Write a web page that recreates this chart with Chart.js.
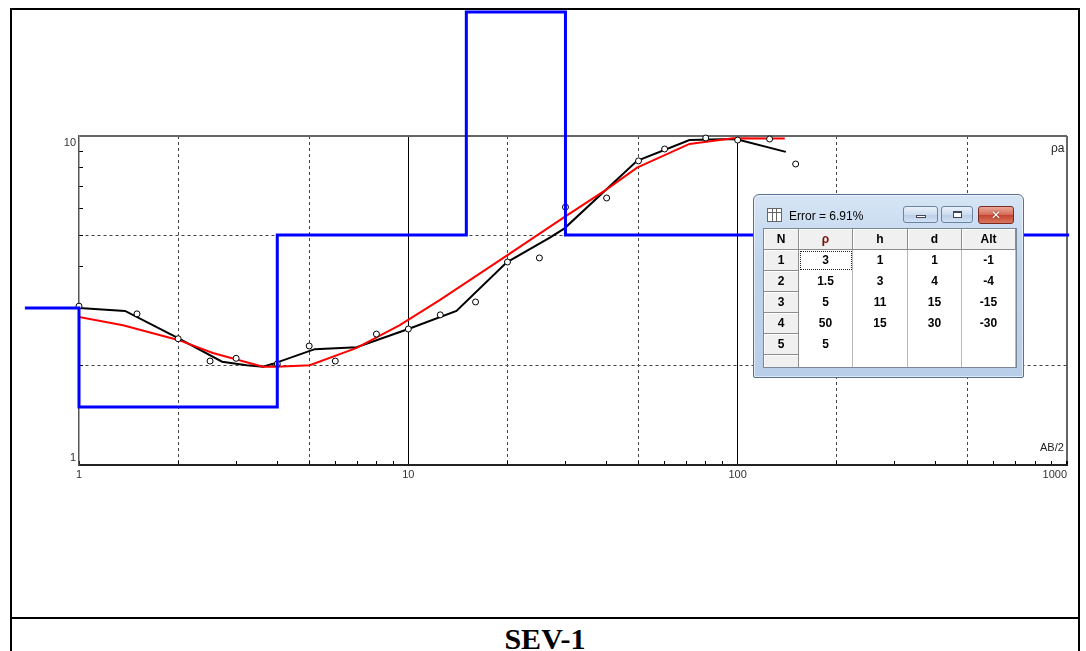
<!DOCTYPE html>
<html>
<head>
<meta charset="utf-8">
<script src="https://cdn.jsdelivr.net/npm/chart.js"></script>
<style>
  body { margin: 0; width: 1086px; height: 651px; overflow: hidden; background: #fff; position: relative; font-family: "Liberation Sans", Arial, sans-serif; }
  #frame { position: absolute; left: 10px; top: 8px; width: 1070px; height: 720px; border: 2px solid #000; box-sizing: border-box; }
  #sep { position: absolute; left: 10px; top: 617px; width: 1070px; height: 2px; background: #000; }
  #caption { position: absolute; left: 10px; width: 1070px; top: 622px; line-height: 30px; text-align: center; font: bold 30px "Liberation Serif", "Times New Roman", serif; }
  #chartBox { position: absolute; left: 12px; top: 10px; width: 1066px; height: 606px; }
  .axname { position: absolute; font-size: 12px; color: #222; }
  #win { position: absolute; left: 753px; top: 194px; width: 271px; height: 184px; box-sizing: border-box;
         border: 1px solid #56708f; border-radius: 6px 6px 2px 2px;
         background: linear-gradient(#d6e5f5, #bed3ec 40%, #b9cfe9); box-shadow: inset 0 0 0 1px rgba(255,255,255,0.55); }
  #win .icon { position: absolute; left: 13px; top: 13px; width: 15px; height: 14px; box-sizing: border-box; border: 1px solid #666;
         background: linear-gradient(#666,#666) 0 3px/100% 1px no-repeat, linear-gradient(#666,#666) 4px 0/1px 100% no-repeat,
                     linear-gradient(#666,#666) 8px 0/1px 100% no-repeat, #fff; }
  #win .ttl { position: absolute; left: 35px; top: 14px; font-size: 12px; color: #000; }
  #win .btn { position: absolute; top: 11px; height: 17px; box-sizing: border-box; border: 1px solid #6a84a5; border-radius: 3px;
         background: linear-gradient(#e9f1fa, #cddcef 50%, #b8cce6 51%, #d3e2f4); }
  #win .bmin { left: 149px; width: 35px; }
  #win .bmax { left: 187px; width: 32px; }
  #win .bmin i { position: absolute; left: 12px; top: 8px; width: 10px; height: 3px; box-sizing: border-box; border: 1px solid #445; background: #fff; }
  #win .bmax i { position: absolute; left: 11px; top: 4px; width: 9px; height: 7px; box-sizing: border-box; border: 1px solid #445; border-top-width: 2px; background: #fff; }
  #win .bclose { left: 224px; width: 36px; height: 18px; border-color: #7a2a1e;
         background: linear-gradient(#eaa898, #d46a56 50%, #c4432f 51%, #d9785f); color: #fff; text-align: center;
         font: bold 12px "DejaVu Sans", sans-serif; line-height: 16px; text-shadow: 0 0 2px #5a1a10; }
  #grid { position: absolute; left: 9px; top: 33px; width: 254px; height: 140px; box-sizing: border-box; border: 1px solid #7d8694;
         overflow: hidden; background: #fff; display: grid; grid-template-columns: 35px 54px 55px 54px 54px; grid-auto-rows: 21px;
         font: bold 12px "Liberation Sans", Arial, sans-serif; }
  #grid div { box-sizing: border-box; text-align: center; line-height: 20px; }
  #grid .hc { background: #f0f0f0; border-right: 1px solid #8c8c8c; border-bottom: 1px solid #8c8c8c; box-shadow: inset 1px 1px 0 #fff; }
  #grid .dc { background: #fff; border-right: 1px solid #b8b8b8; line-height: 21px; }
  #grid .rho { color: #7a1010; }
  #grid .focus { outline: 1px dotted #222; outline-offset: -2px; }
</style>
</head>
<body>
<div id="frame"></div>
<div id="sep"></div>
<div id="caption">SEV-1</div>
<div id="chartBox"><canvas id="sevChart" width="1066" height="606"></canvas></div>
<span class="axname" style="left:1051px; top:141px;">ρa</span>
<span class="axname" style="left:1040px; top:441px; font-size:11px;">AB/2</span>
<div id="win">
  <div class="icon"></div>
  <div class="ttl">Error = 6.91%</div>
  <div class="btn bmin"><i></i></div>
  <div class="btn bmax"><i></i></div>
  <div class="btn bclose">✕</div>
  <div id="grid"></div>
</div>
<script>
// axis ticks (AB/2 and apparent resistivity, both log)
const abTicks = [1, 2, 3, 4, 5, 6, 7, 8, 9, 10, 20, 30, 40, 50, 60, 70, 80, 90, 100, 200, 300, 400, 500, 600, 700, 800, 900, 1000];
const rhoTicks = [1, 2, 3, 4, 5, 6, 7, 8, 9, 10];
const abLabels = [1, 10, 100, 1000];
const abDashed = [2, 5, 20, 50, 200, 500];
const rhoDashed = [2, 5];

// field measurements (circles)
const obsAB  = [1, 1.5, 2, 2.5, 3, 4, 5, 6, 8, 10, 12.5, 16, 20, 25, 30, 40, 50, 60, 80, 100, 125, 150];
const obsRho = [3.04, 2.88, 2.42, 2.07, 2.11, 2.03, 2.30, 2.07, 2.50, 2.59, 2.86, 3.13, 4.14, 4.26, 6.08, 6.48, 8.40, 9.13, 9.86, 9.72, 9.79, 8.22];

// smoothed field curve (black)
const fieldAB  = [1, 1.38, 2.0, 2.72, 3.23, 3.62, 3.88, 5.2, 6.97, 10, 14, 19.9, 26.9, 29.8, 49.5, 71.4, 96.7, 100, 140];
const fieldRho = [3.0, 2.94, 2.43, 2.06, 2.01, 1.99, 2.03, 2.25, 2.28, 2.59, 2.94, 4.13, 4.91, 5.24, 8.41, 9.72, 9.79, 9.76, 8.95];

// calculated curve (red)
const calcAB  = [1, 1.36, 2.0, 2.55, 3.62, 3.99, 5.02, 6.97, 9.42, 12.45, 19.9, 29.6, 39.7, 49.5, 71.4, 96.7, 139];
const calcRho = [2.82, 2.66, 2.40, 2.19, 1.99, 1.99, 2.01, 2.27, 2.66, 3.17, 4.33, 5.65, 6.85, 8.01, 9.46, 9.85, 9.83];

// layered model (blue) and table
const layerRho = [3, 1.5, 5, 50, 5];
const layerH = [1, 3, 11, 15];
const layerD = [1, 4, 15, 30];
const layerAlt = [-1, -4, -15, -30];
const modelRange = [0.685, 1015];

function pts(xs, ys) {
  return xs.map((x, i) => ({x: x, y: ys[i]}));
}

const modelPoints = [{x: modelRange[0], y: layerRho[0]}];
layerD.forEach((d, i) => modelPoints.push({x: d, y: layerRho[i + 1]}));
modelPoints.push({x: modelRange[1], y: layerRho[layerRho.length - 1]});

// the program clamps the model to the window top
const clampModel = {
  id: 'clampModel',
  afterDatasetsUpdate(chart) {
    chart.getDatasetMeta(0).data.forEach(p => { if (p.y < 2) p.y = 2; });
  }
};

Chart.defaults.font.family = '"Liberation Sans", Arial, sans-serif';
Chart.defaults.font.size = 11;
Chart.defaults.color = '#333';

const ctx = document.getElementById('sevChart');

new Chart(ctx, {
  type: 'line',
  data: {
    datasets: [
      {
        data: modelPoints,
        borderColor: '#0000ff',
        borderWidth: 3,
        stepped: 'before',
        pointRadius: 0,
        clip: false
      },
      {
        data: pts(obsAB, obsRho),
        showLine: false,
        pointRadius: 3,
        pointBackgroundColor: '#fff',
        pointBorderColor: '#000',
        pointBorderWidth: 1,
        clip: false
      },
      {
        data: pts(calcAB, calcRho),
        borderColor: '#ff0000',
        borderWidth: 2,
        pointRadius: 0
      },
      {
        data: pts(fieldAB, fieldRho),
        borderColor: '#000',
        borderWidth: 2,
        pointRadius: 0
      }
    ]
  },
  options: {
    responsive: false,
    animation: false,
    layout: { padding: { top: 126, right: 11, bottom: 121, left: 27 } },
    plugins: { legend: { display: false }, tooltip: { enabled: false } },
    scales: {
      x: {
        type: 'logarithmic',
        min: 1,
        max: 1000,
        afterBuildTicks: axis => { axis.ticks = abTicks.map(v => ({value: v})); },
        afterFit: axis => { axis.height = 30; axis.paddingLeft = 0; axis.paddingRight = 0; },
        ticks: {
          autoSkip: false,
          maxRotation: 0,
          padding: 7,
          color: '#333',
          callback: v => {
            if (!abLabels.includes(v)) return '';
            return v === 1000 ? '1000        ' : String(v);
          }
        },
        grid: {
          color: c => {
            const v = c.tick ? c.tick.value : 0;
            if (v === 1000) return '#666';
            if (v === 10 || v === 100) return '#000';
            if (abDashed.includes(v)) return '#444';
            return 'transparent';
          },
          lineWidth: c => (c.tick && c.tick.value === 1000 ? 2 : 1),
          tickLength: -4,
          tickColor: '#000'
        },
        border: {
          color: '#222',
          width: 2,
          dash: c => (c.tick && abDashed.includes(c.tick.value) ? [3, 3] : [])
        }
      },
      y: {
        type: 'logarithmic',
        min: 1,
        max: 10,
        afterBuildTicks: axis => { axis.ticks = rhoTicks.map(v => ({value: v})); },
        afterFit: axis => { axis.width = 40; axis.paddingTop = 0; axis.paddingBottom = 0; },
        ticks: {
          autoSkip: false,
          padding: 7,
          color: '#333',
          callback: v => (v === 10 ? ['', '10'] : v === 1 ? ['1', ''] : '')
        },
        grid: {
          color: c => {
            const v = c.tick ? c.tick.value : 0;
            if (v === 10) return '#666';
            if (rhoDashed.includes(v)) return '#444';
            return 'transparent';
          },
          lineWidth: c => (c.tick && c.tick.value === 10 ? 2 : 1),
          tickLength: -4,
          tickColor: c => (c.tick && (c.tick.value === 1 || c.tick.value === 10) ? 'transparent' : '#000')
        },
        border: {
          color: '#555',
          width: 1.5,
          dash: c => (c.tick && rhoDashed.includes(c.tick.value) ? [3, 3] : [])
        }
      }
    }
  },
  plugins: [clampModel]
});

// model table in the little window
const grid = document.getElementById('grid');
let cells = '<div class="hc">N</div><div class="hc rho">ρ</div><div class="hc">h</div><div class="hc">d</div><div class="hc">Alt</div>';
for (let i = 0; i < layerRho.length; i++) {
  const last = i >= layerH.length;
  cells += '<div class="hc">' + (i + 1) + '</div>';
  cells += '<div class="dc' + (i === 0 ? ' focus' : '') + '">' + layerRho[i] + '</div>';
  cells += '<div class="dc">' + (last ? '' : layerH[i]) + '</div>';
  cells += '<div class="dc">' + (last ? '' : layerD[i]) + '</div>';
  cells += '<div class="dc">' + (last ? '' : layerAlt[i]) + '</div>';
}
cells += '<div class="hc"></div><div class="dc"></div><div class="dc"></div><div class="dc"></div><div class="dc"></div>';
grid.innerHTML = cells;
</script>
</body>
</html>
